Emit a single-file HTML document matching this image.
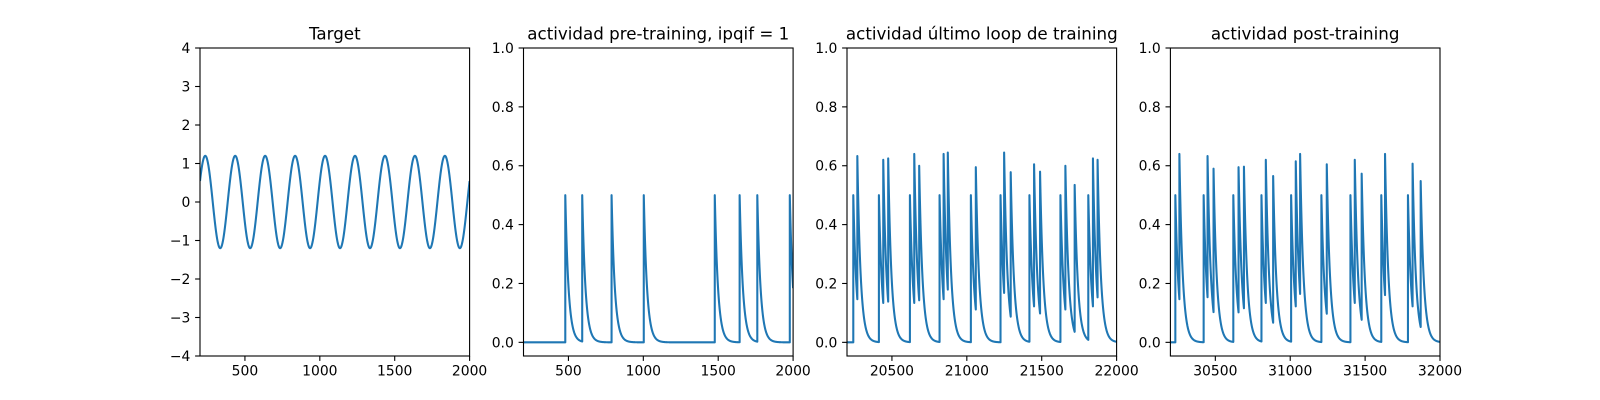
<!DOCTYPE html>
<html><head><meta charset="utf-8">
<style>
html,body{margin:0;padding:0;background:#fff;}
svg{display:block;font-family:"DejaVu Sans","Liberation Sans",sans-serif;}
</style></head>
<body>
<svg id="fig" width="1600" height="400" viewBox="0 0 1600 400" xmlns="http://www.w3.org/2000/svg">
<rect width="1600" height="400" fill="#fff"/>
</svg>
<script>
// ---- data ----
const targetExtremaX = [135,235,335,435,535,635,735,835,935,1035,1135,1235,1335,1435,1535,1635,1735,1835,1935,2035];
const targetExtremaY = [-1.2,1.2,-1.2,1.2,-1.2,1.2,-1.2,1.2,-1.2,1.2,-1.2,1.2,-1.2,1.2,-1.2,1.2,-1.2,1.2,-1.2,1.2];

const preTimes = [479,592,788,1003,1477,1643,1761,1978];
const prePeaks = [0.5,0.5,0.5,0.5,0.5,0.5,0.5,0.5];

const lastTimes = [20242,20269,20413,20442,20475,20620,20649,20682,20818,20845,20873,21027,21060,21225,21249,21293,21418,21449,21489,21625,21658,21720,21811,21842,21873];
const lastPeaks = [0.5,0.633,0.5,0.62,0.625,0.5,0.64,0.60,0.5,0.64,0.645,0.5,0.595,0.5,0.645,0.578,0.5,0.605,0.58,0.5,0.60,0.535,0.5,0.625,0.62];

const postTimes = [30233,30260,30422,30448,30488,30620,30655,30691,30808,30837,30886,31006,31037,31066,31208,31244,31402,31431,31477,31608,31633,31786,31817,31871];
const postPeaks = [0.5,0.64,0.5,0.633,0.59,0.5,0.595,0.597,0.5,0.62,0.565,0.5,0.615,0.64,0.5,0.605,0.5,0.62,0.573,0.5,0.64,0.5,0.607,0.548];

const decayTau = [22];

const xTicks1 = [500,1000,1500,2000];
const xTicks3 = [20500,21000,21500,22000];
const xTicks4 = [30500,31000,31500,32000];
const yTicks1 = [-4,-3,-2,-1,0,1,2,3,4];
const yTicksAct = [0.0,0.2,0.4,0.6,0.8,1.0];

// ---- drawing ----
const NS = "http://www.w3.org/2000/svg";
const svg = document.getElementById('fig');
const TOP = 48, BOT = 356, W = 269.6;
const lefts = [200, 523.5, 847, 1170.4];

function el(tag, attrs, parent){
  const e = document.createElementNS(NS, tag);
  for (const k in attrs) e.setAttribute(k, attrs[k]);
  (parent||svg).appendChild(e);
  return e;
}

function spikeSeries(times, peaks, tau, x0, x1){
  const pts = [[x0, 0]];
  for (let i=0;i<times.length;i++){
    const t = times[i];
    const end = i+1<times.length ? times[i+1] : x1;
    let prev = i===0 ? 0 : peaks[i-1]*Math.exp(-(t-times[i-1])/tau);
    pts.push([t, prev]);
    pts.push([t, peaks[i]]);
    for (let s=t+1; s<end; s+=1) pts.push([s, peaks[i]*Math.exp(-(s-t)/tau)]);
    if (i+1>=times.length) pts.push([x1, peaks[i]*Math.exp(-(x1-t)/tau)]);
  }
  return pts;
}
function sineSeries(ex, ey, x0, x1){
  const pts = [];
  for (let s=x0; s<=x1; s+=2){
    let k=0; while (k<ex.length-2 && ex[k+1]<s) k++;
    const f = (s-ex[k])/(ex[k+1]-ex[k]);
    const w = (1-Math.cos(Math.PI*f))/2;
    pts.push([s, ey[k]+(ey[k+1]-ey[k])*w]);
  }
  return pts;
}

function panel(idx, name, title, xmin, xmax, ymin, ymax, xt, yt, ylab, pts){
  const L = lefts[idx], R = L+W;
  const g = el('g', {}); 
  
  
  const sx = v => L + (v-xmin)/(xmax-xmin)*W;
  const sy = v => BOT - (v-ymin)/(ymax-ymin)*(BOT-TOP);
  const cp = 'clip'+idx;
  const c = el('clipPath', {id:cp}, g);
  el('rect', {x:L, y:TOP, width:W, height:BOT-TOP}, c);
  const d = pts.map((p,i)=>(i?'L':'M')+sx(p[0]).toFixed(2)+' '+sy(p[1]).toFixed(2)).join('');
  const line = el('path', {d:d, fill:'none', stroke:'#1f77b4', 'stroke-width':2.08, 'stroke-linejoin':'round', 'clip-path':'url(#'+cp+')'}, g);
  
  
  const frame = el('rect', {x:L, y:TOP, width:W, height:BOT-TOP, fill:'none', stroke:'#000', 'stroke-width':1.1}, g);
  
  
  xt.forEach(v=>{
    const x = sx(v);
    el('line', {x1:x, x2:x, y1:BOT, y2:BOT+4.9, stroke:'#000', 'stroke-width':1.1}, g);
    const t = el('text', {x:x, y:BOT+19.5, 'font-size':13.9, 'text-anchor':'middle', fill:'#000'}, g);
    t.textContent = String(v);
    
    
  });
  yt.forEach(v=>{
    const y = sy(v);
    el('line', {x1:L-4.9, x2:L, y1:y, y2:y, stroke:'#000', 'stroke-width':1.1}, g);
    const t = el('text', {x:L-9.7, y:y+5, 'font-size':13.9, 'text-anchor':'end', fill:'#000'}, g);
    t.textContent = ylab(v);
    
    
  });
  const tt = el('text', {x:L+W/2, y:TOP-8.5, 'font-size':16.7, 'text-anchor':'middle', fill:'#000'}, g);
  tt.textContent = title;
  
  
}

const minus = v => (v<0 ? '\u2212'+Math.abs(v) : String(v));
const dec = v => v.toFixed(1);
const YMIN = -0.0464;
panel(0, 'target-panel', 'Target', 200, 2000, -4, 4, xTicks1, yTicks1, minus,
  sineSeries(targetExtremaX, targetExtremaY, 200, 2000));
panel(1, 'pre-training-panel', 'actividad pre-training, ipqif = 1', 200, 2000, YMIN, 1, xTicks1, yTicksAct, dec,
  spikeSeries(preTimes, prePeaks, decayTau[0], 200, 2000));
panel(2, 'last-loop-panel', 'actividad último loop de training', 20200, 22000, YMIN, 1, xTicks3, yTicksAct, dec,
  spikeSeries(lastTimes, lastPeaks, decayTau[0], 20200, 22000));
panel(3, 'post-training-panel', 'actividad post-training', 30200, 32000, YMIN, 1, xTicks4, yTicksAct, dec,
  spikeSeries(postTimes, postPeaks, decayTau[0], 30200, 32000));
</script>
</body></html>
